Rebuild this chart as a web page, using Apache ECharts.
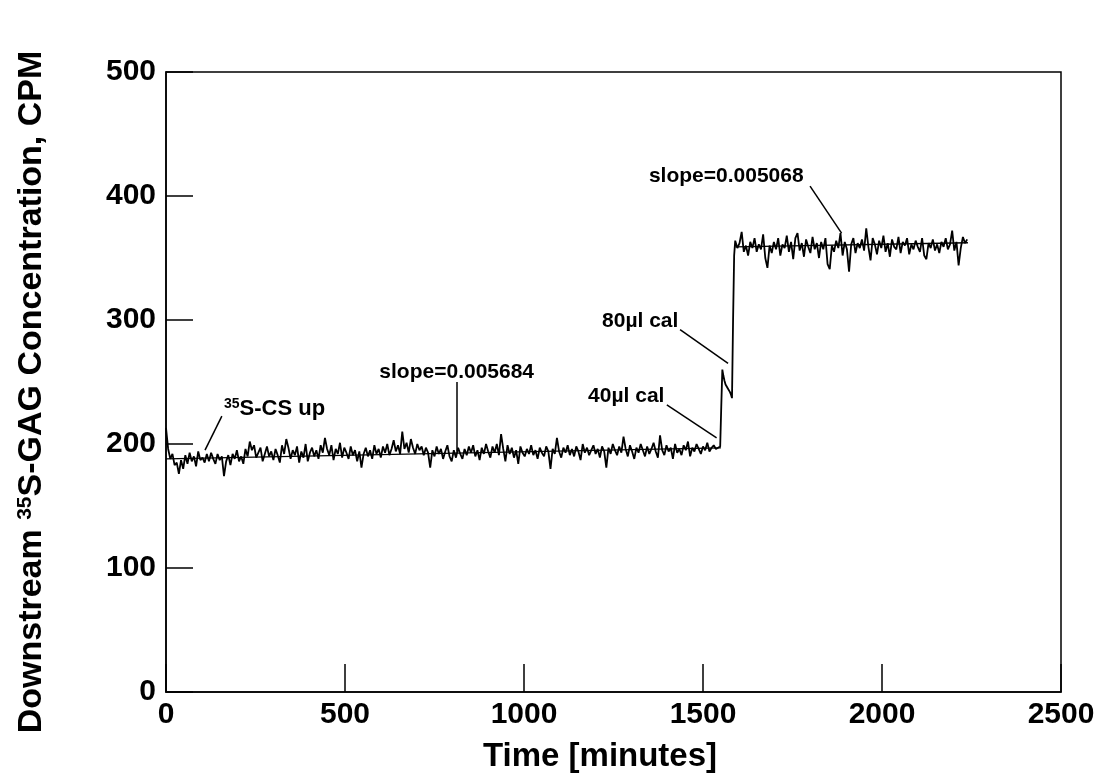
<!DOCTYPE html>
<html>
<head>
<meta charset="utf-8">
<script src="https://cdn.jsdelivr.net/npm/echarts@6/dist/echarts.min.js"></script>
<style>
html, body { margin: 0; padding: 0; background: #fff; }
#chart { width: 1102px; height: 782px; }
</style>
</head>
<body>
<div id="chart"></div>
<script>
// Counting record: downstream 35S-GAG activity (CPM) against time (minutes)

// Baseline before calibration, one reading every 6 minutes from t = 0
const baselineStart = 0;
const baselineStep = 6;
const baselineCPM = [
  213, 196, 188, 192, 183, 185, 176, 187, 180, 191,
  184, 193, 186, 190, 182, 194, 187, 189, 185, 192,
  186, 193, 188, 184, 192, 187, 190, 174, 186, 191,
  183, 192, 188, 195, 186, 190, 184, 196, 190, 202,
  195, 199, 189, 193, 197, 186, 192, 198, 190, 194,
  187, 196, 191, 185, 199, 192, 204, 197, 188, 195,
  191, 198, 185, 194, 189, 200, 186, 193, 197, 190,
  195, 188, 199, 193, 205, 196, 191, 199, 187, 196,
  192, 201, 189, 197, 193, 188, 198, 191, 195, 186,
  194, 181, 192, 197, 190, 195, 188, 199, 192, 196,
  189, 198, 193, 200, 191, 196, 203, 194, 199, 192,
  210, 196, 201, 193, 204, 197, 192, 200, 195, 198,
  191, 197, 193, 181, 195, 190, 198, 192, 196, 188,
  194, 199, 190, 186, 195, 189, 197, 192, 188, 196,
  191, 198, 193, 199, 190, 195, 187, 197, 192, 200,
  194, 189, 198, 193, 200, 191, 208, 196, 186, 199,
  192, 197, 189, 195, 184, 198, 193, 190, 196, 192,
  199, 191, 195, 188, 197, 193, 190, 198, 194, 180,
  196, 192, 205, 194, 189, 197, 193, 199, 191, 196,
  190, 198, 194, 187, 200, 193, 197, 191, 195, 199,
  192, 196, 189, 198, 194, 181, 197, 192, 200, 195,
  191, 198, 193, 206, 196, 190, 199, 194, 188, 197,
  193, 200, 195, 190, 198, 192, 196, 201, 194, 189,
  207, 195, 191, 199, 194, 197, 188, 200, 193, 196,
  191, 199, 195, 202, 190, 197, 194, 200, 196, 192,
  198, 195, 201, 194, 197, 199, 196, 197
];

// 40 and 80 microlitre calibration additions
const calTimes = [1548, 1551, 1554, 1557, 1560, 1563, 1566, 1569, 1572, 1575, 1578, 1581, 1584, 1587];
const calCPM   = [ 198,  230,  260,  255,  251,  248,  249,  245,  246,  242,  240,  237,  300,  352];

// Plateau after calibration, one reading every 6 minutes from t = 1590
const plateauStart = 1590;
const plateauStep = 6;
const plateauCPM = [
  364, 358, 362, 371, 355, 360, 352, 363, 358, 366,
  355, 361, 357, 369, 350, 342, 360, 354, 363, 357,
  366, 352, 361, 358, 368, 355, 363, 349, 366, 370,
  356, 362, 351, 365, 359, 354, 367, 357, 362, 350,
  363, 357, 366, 345, 341, 360, 355, 364, 358, 370,
  352, 363, 357, 339, 361, 366, 354, 362, 358, 365,
  356, 374, 359, 348, 366, 361, 353, 364, 358, 368,
  355, 362, 351, 365, 359, 357, 367, 354, 363, 360,
  366, 353, 361, 357, 364, 359, 355, 366, 352, 349,
  362, 358, 365, 356, 361, 354, 363, 359, 366, 357,
  361, 372, 356, 363, 344, 358, 367, 362, 365
];

// Linear fits: [time, CPM] end points
const fitBefore = [[0, 188], [1550, 196.8]];
const fitAfter  = [[1590, 359], [2240, 362.3]];

// Axis ranges
const xRange = { min: 0, max: 2500, interval: 500 };
const yRange = { min: 0, max: 500, interval: 100 };

// Annotation texts, anchored in data coordinates
const notes = [
  { text: '{sup|35}{txt|S-CS up}', at: [162, 223], align: 'left', rich: true },
  { text: 'slope=0.005684', at: [812, 252], align: 'center' },
  { text: '40\u00b5l cal', at: [1179, 233], align: 'left' },
  { text: '80\u00b5l cal', at: [1218, 293.7], align: 'left' },
  { text: 'slope=0.005068', at: [1349, 410], align: 'left' }
];
// Leader lines from each annotation to the trace
const leaders = [
  [[156, 222.5], [109, 195]],
  [[812, 250], [812, 194]],
  [[1399, 231.6], [1538, 205]],
  [[1436, 292.3], [1570, 265]],
  [[1799, 408], [1887, 370]]
];

const FONT = '"Liberation Sans", Arial, Helvetica, sans-serif';

const trace = [];
baselineCPM.forEach((v, i) => trace.push([baselineStart + i * baselineStep, v]));
calTimes.forEach((t, i) => trace.push([t, calCPM[i]]));
plateauCPM.forEach((v, i) => trace.push([plateauStart + i * plateauStep, v]));

const chart = echarts.init(document.getElementById('chart'), null, { renderer: 'canvas' });

const option = {
  backgroundColor: '#fff',
  animation: false,
  grid: {
    left: 166, right: 41, top: 72, bottom: 90,
    show: true, borderColor: '#000', borderWidth: 1.5, backgroundColor: 'transparent'
  },
  xAxis: {
    type: 'value', min: xRange.min, max: xRange.max, interval: xRange.interval,
    axisLine: { show: true, onZero: false, lineStyle: { color: '#000', width: 1.5 } },
    axisTick: { show: true, inside: true, length: 28, lineStyle: { color: '#000', width: 1.5 } },
    axisLabel: {
      color: '#000', fontFamily: FONT, fontWeight: 'bold', fontSize: 30, margin: 8,
      formatter: v => String(v)
    },
    splitLine: { show: false }
  },
  yAxis: {
    type: 'value', min: yRange.min, max: yRange.max, interval: yRange.interval,
    axisLine: { show: true, onZero: false, lineStyle: { color: '#000', width: 1.5 } },
    axisTick: { show: true, inside: true, length: 27, lineStyle: { color: '#000', width: 1.5 } },
    axisLabel: {
      color: '#000', fontFamily: FONT, fontWeight: 'bold', fontSize: 30, margin: 10,
      formatter: v => String(v)
    },
    splitLine: { show: false }
  },
  series: [
    {
      name: 'CPM', type: 'line', data: trace, showSymbol: false, symbol: 'none',
      lineStyle: { color: '#000', width: 1.8 }, z: 3,
      markLine: {
        silent: true, symbol: ['none', 'none'], animation: false,
        label: { show: false },
        lineStyle: { color: '#000', width: 1.5, type: 'solid' },
        data: leaders.map(seg => [{ coord: seg[0] }, { coord: seg[1] }])
      }
    },
    {
      name: 'fit before', type: 'line', data: fitBefore, showSymbol: false, symbol: 'none',
      lineStyle: { color: '#000', width: 1.3 }, z: 2
    },
    {
      name: 'fit after', type: 'line', data: fitAfter, showSymbol: false, symbol: 'none',
      lineStyle: { color: '#000', width: 1.3 }, z: 2
    }
  ]
};
chart.setOption(option);

function titleGraphics() {
  const g = [];
  // y-axis title, rotated
  g.push({
    type: 'text', x: 32, y: 392, rotation: Math.PI / 2,
    style: {
      text: '{t|Downstream }{sup|35}{t|S-GAG Concentration, CPM}',
      align: 'center', verticalAlign: 'middle',
      rich: {
        t: { fontFamily: FONT, fontWeight: 'bold', fontSize: 34, fill: '#000', color: '#000' },
        sup: { fontFamily: FONT, fontWeight: 'bold', fontSize: 21, fill: '#000', color: '#000', padding: [0, 0, 14, 0] }
      }
    }
  });
  // x-axis title
  g.push({
    type: 'text', x: 600, y: 757,
    style: {
      text: 'Time [minutes]', align: 'center', verticalAlign: 'middle',
      font: 'bold 33px ' + FONT, fill: '#000'
    }
  });
  // annotations
  notes.forEach(n => {
    const p = chart.convertToPixel({ gridIndex: 0 }, n.at);
    const el = {
      type: 'text', x: p[0], y: p[1] - 7,
      style: { text: n.text, align: n.align, verticalAlign: 'middle', fill: '#000' }
    };
    if (n.rich) {
      el.style.rich = {
        txt: { fontFamily: FONT, fontWeight: 'bold', fontSize: 22, fill: '#000', color: '#000' },
        sup: { fontFamily: FONT, fontWeight: 'bold', fontSize: 14, fill: '#000', color: '#000', padding: [0, 0, 9, 0] }
      };
    } else {
      el.style.font = 'bold 21px ' + FONT;
    }
    g.push(el);
  });
  return g;
}
chart.setOption({ graphic: titleGraphics() });
</script>
</body>
</html>
